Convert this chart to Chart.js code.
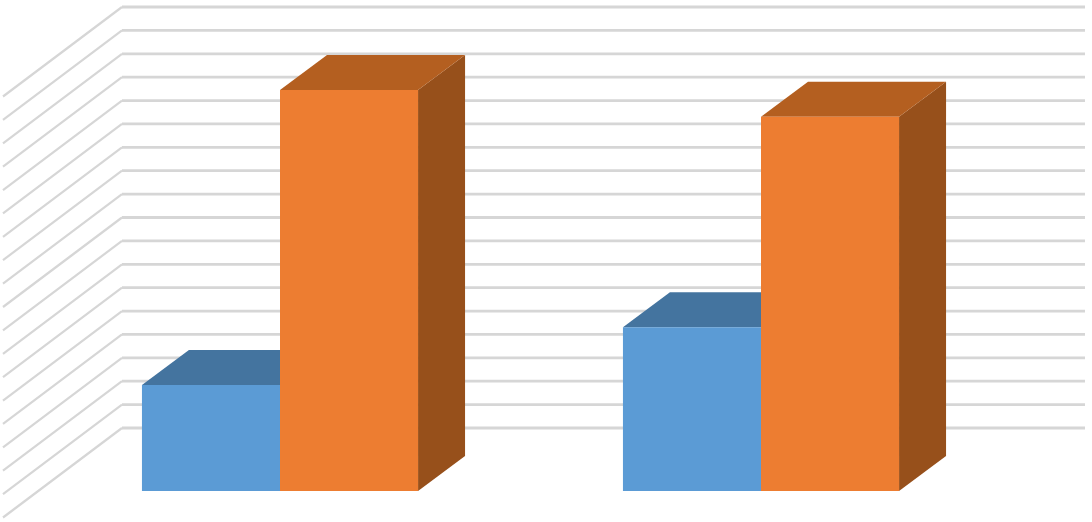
<!DOCTYPE html>
<html>
<head>
<meta charset="utf-8">
<title>Chart</title>
<script src="https://cdn.jsdelivr.net/npm/chart.js@4"></script>
<style>
    html, body { margin: 0; padding: 0; background: #fff; }
    #box { position: relative; width: 1092px; height: 522px; }
</style>
</head>
<body>
<div id="box"><canvas id="myChart"></canvas></div>
<script>
// Values (no labels in the original)
const categories = ['', ' '];
const blueValues = [4.53, 7.0];
const orangeValues = [17.14, 16.0];
const axisMax = 18;

// Depth of the 3D look, in pixels
const barDepthX = 47;
const barDepthY = 35;
const wallLiftY = 63;    // back wall sits this far above the bars' baseline
const wallLeft = 122;
const wallRight = 1085;
const floorLeft = 3;
const floorDropY = 89.5;

function poly(ctx, color, pts) {
    ctx.fillStyle = color;
    ctx.beginPath();
    pts.forEach((p, i) => i ? ctx.lineTo(p[0], p[1]) : ctx.moveTo(p[0], p[1]));
    ctx.closePath();
    ctx.fill();
}

// Wall grid and the top/side faces, taken from the scale and bar elements
const fake3d = {
    id: 'fake3d',
    beforeDatasetsDraw(chart) {
        const ctx = chart.ctx;
        const yScale = chart.scales.y;
        ctx.save();
        ctx.strokeStyle = '#d6d6d6';
        ctx.lineJoin = 'round';
        yScale.ticks.forEach(t => {
            const y = yScale.getPixelForValue(t.value) - wallLiftY;
            // slanted floor part is a bit thinner than the wall line
            ctx.lineWidth = 2.2;
            ctx.beginPath();
            ctx.moveTo(floorLeft, y + floorDropY);
            ctx.lineTo(wallLeft, y);
            ctx.stroke();
            ctx.lineWidth = 2.8;
            ctx.beginPath();
            ctx.moveTo(wallLeft, y);
            ctx.lineTo(wallRight, y);
            ctx.stroke();
        });
        chart.data.datasets.forEach((ds, i) => {
            chart.getDatasetMeta(i).data.forEach(bar => {
                const l = bar.x - bar.width / 2;
                const r = bar.x + bar.width / 2;
                poly(ctx, ds.sideColor, [[r, bar.y], [r + barDepthX, bar.y - barDepthY], [r + barDepthX, bar.base - barDepthY], [r, bar.base]]);
                poly(ctx, ds.topColor, [[l, bar.y], [l + barDepthX, bar.y - barDepthY], [r + barDepthX, bar.y - barDepthY], [r, bar.y]]);
            });
        });
        ctx.restore();
    }
};

new Chart(document.getElementById('myChart'), {
    type: 'bar',
    data: {
        labels: categories,
        datasets: [
            { label: 'Blue', data: blueValues, backgroundColor: '#5b9bd5', topColor: '#44749f', sideColor: '#3d6a92' },
            { label: 'Orange', data: orangeValues, backgroundColor: '#ed7d31', topColor: '#b45f20', sideColor: '#97501b' }
        ]
    },
    options: {
        responsive: true,
        maintainAspectRatio: false,
        animation: false,
        layout: { padding: { left: 39.5, right: 90.5, top: 70, bottom: 31 } },
        datasets: { bar: { barPercentage: 1, categoryPercentage: 0.574 } },
        plugins: { legend: { display: false }, tooltip: { enabled: false } },
        scales: {
            x: { display: false, grid: { display: false } },
            y: { display: false, min: 0, max: axisMax, ticks: { stepSize: 1 }, grid: { display: false } }
        }
    },
    plugins: [fake3d]
});
</script>
</body>
</html>
